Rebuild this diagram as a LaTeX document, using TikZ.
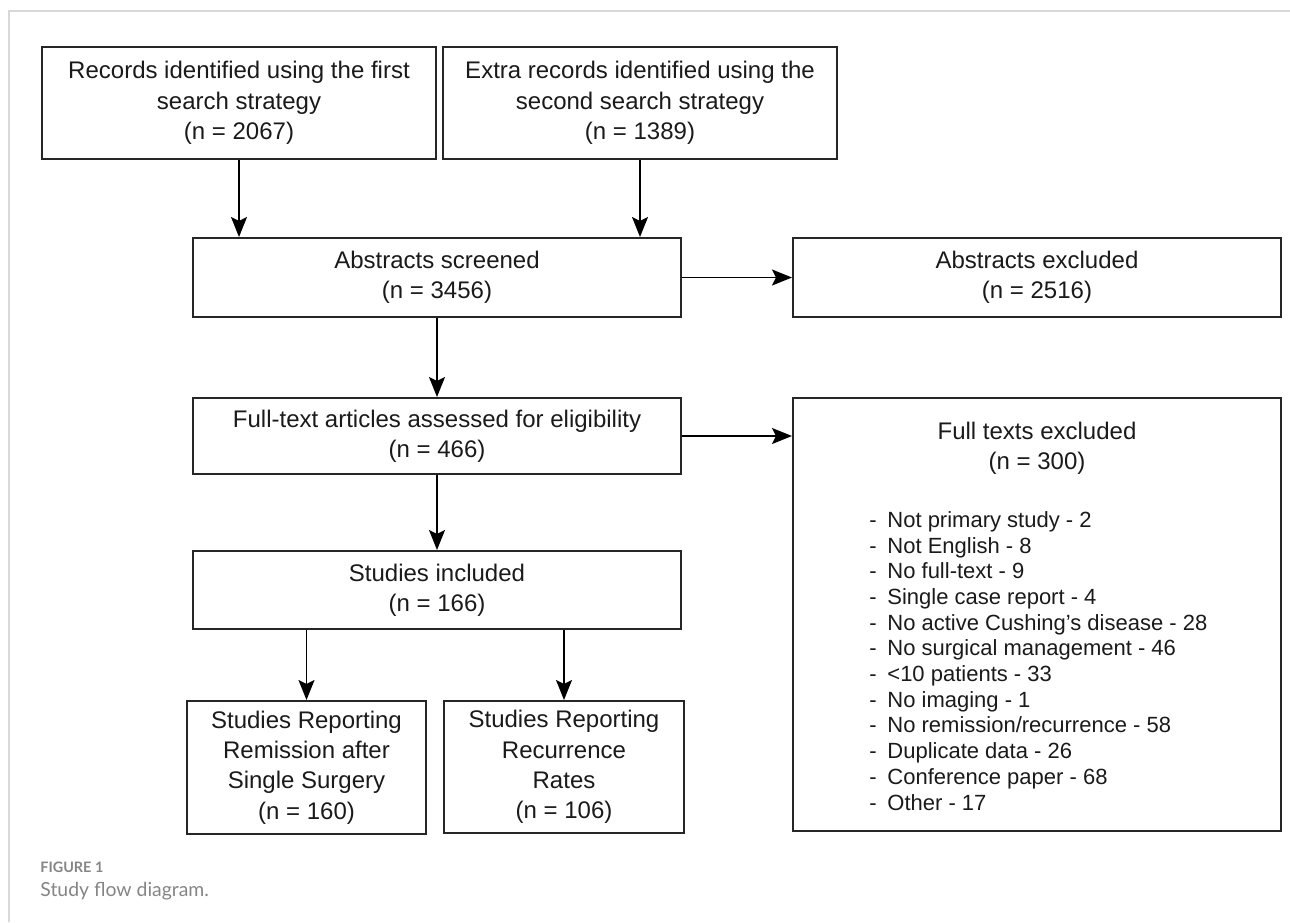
\documentclass[tikz,border=0pt]{standalone}
\usepackage{fontspec}
\setmainfont{Liberation Sans}
\newfontfamily\capfont{Lato}
\usetikzlibrary{arrows.meta}
\definecolor{boxc}{HTML}{262626}
\definecolor{txt}{HTML}{1A1A1A}
\definecolor{framec}{HTML}{D8D8D8}
\definecolor{capgray}{HTML}{858585}
\tikzset{
  box/.style={draw=boxc, line width=1pt, inner sep=0pt, align=center, text=txt, font=\fontsize{12}{15.2}\selectfont},
  arr/.style={-{Stealth[length=10pt,width=8pt,inset=2pt]}, line width=0.85pt, draw=black},
  plain/.style={inner sep=0pt, text=txt}
}
\begin{document}
\begin{tikzpicture}[x=0.5pt,y=-0.5pt]
\useasboundingbox (0,0) rectangle (1290,922);
\draw[framec, line width=1pt] (9,922) -- (9,11) -- (1290,11);

\node[box, minimum width=197pt, minimum height=56pt] (rec1) at (239,103) {Records identified using the first\\search strategy\\(n = 2067)};
\node[box, minimum width=197pt, minimum height=56pt] (rec2) at (640,103) {Extra records identified using the\\second search strategy\\(n = 1389)};
\node[box, minimum width=244pt, minimum height=39.5pt] (abs) at (437,277.5) {Abstracts screened\\(n = 3456)};
\node[box, minimum width=244pt, minimum height=39.5pt] (absx) at (1037,277.5) {Abstracts excluded\\(n = 2516)};
\node[box, minimum width=244pt, minimum height=38pt] (ft) at (437,436) {Full-text articles assessed for eligibility\\(n = 466)};
\node[box, minimum width=244pt, minimum height=216.5pt] (ftx) at (1037,614.5) {};
\node[box, minimum width=244pt, minimum height=39pt] (inc) at (437,590) {Studies included\\(n = 166)};
\node[box, minimum width=119.5pt, minimum height=66.5pt] (rem) at (306.5,767.5) {Studies Reporting\\Remission after\\Single Surgery\\(n = 160)};
\node[box, minimum width=120pt, minimum height=66pt] (recur) at (564,767) {Studies Reporting\\Recurrence\\Rates\\(n = 106)};

\node[plain, anchor=base, font=\fontsize{12}{15.2}\selectfont] (ftxt) at (1037,439) {Full texts excluded};
\node[plain, anchor=base, font=\fontsize{12}{15.2}\selectfont] (ftxn) at (1037,469) {(n = 300)};
\node[plain, anchor=north west, align=left, font=\fontsize{11}{12.85}\selectfont] (exlist) at (869,511) {%
\makebox[9pt][l]{-}Not primary study - 2\\
\makebox[9pt][l]{-}Not English - 8\\
\makebox[9pt][l]{-}No full-text - 9\\
\makebox[9pt][l]{-}Single case report - 4\\
\makebox[9pt][l]{-}No active Cushing’s disease - 28\\
\makebox[9pt][l]{-}No surgical management - 46\\
\makebox[9pt][l]{-}<10 patients - 33\\
\makebox[9pt][l]{-}No imaging - 1\\
\makebox[9pt][l]{-}No remission/recurrence - 58\\
\makebox[9pt][l]{-}Duplicate data - 26\\
\makebox[9pt][l]{-}Conference paper - 68\\
\makebox[9pt][l]{-}Other - 17};

\draw[arr] (rec1.south) -- (rec1.south |- abs.north);
\draw[arr] (rec2.south) -- (rec2.south |- abs.north);
\draw[arr] (abs.east) -- (absx.west);
\draw[arr] (abs.south) -- (ft.north);
\draw[arr] (ft.east) -- (ft.east -| ftx.west);
\draw[arr] (ft.south) -- (inc.north);
\draw[arr] (inc.south -| rem.north) -- (rem.north);
\draw[arr] (inc.south -| recur.north) -- (recur.north);

\node[inner sep=0pt, anchor=base west, text=capgray, font=\capfont\bfseries\fontsize{7.2}{8}\selectfont] (figlab) at (40,872) {FIGURE 1};
\node[inner sep=0pt, anchor=base west, text=capgray, font=\capfont\fontsize{9.7}{12}\selectfont] (figcap) at (40,896) {Study flow diagram.};
\end{tikzpicture}
\end{document}
